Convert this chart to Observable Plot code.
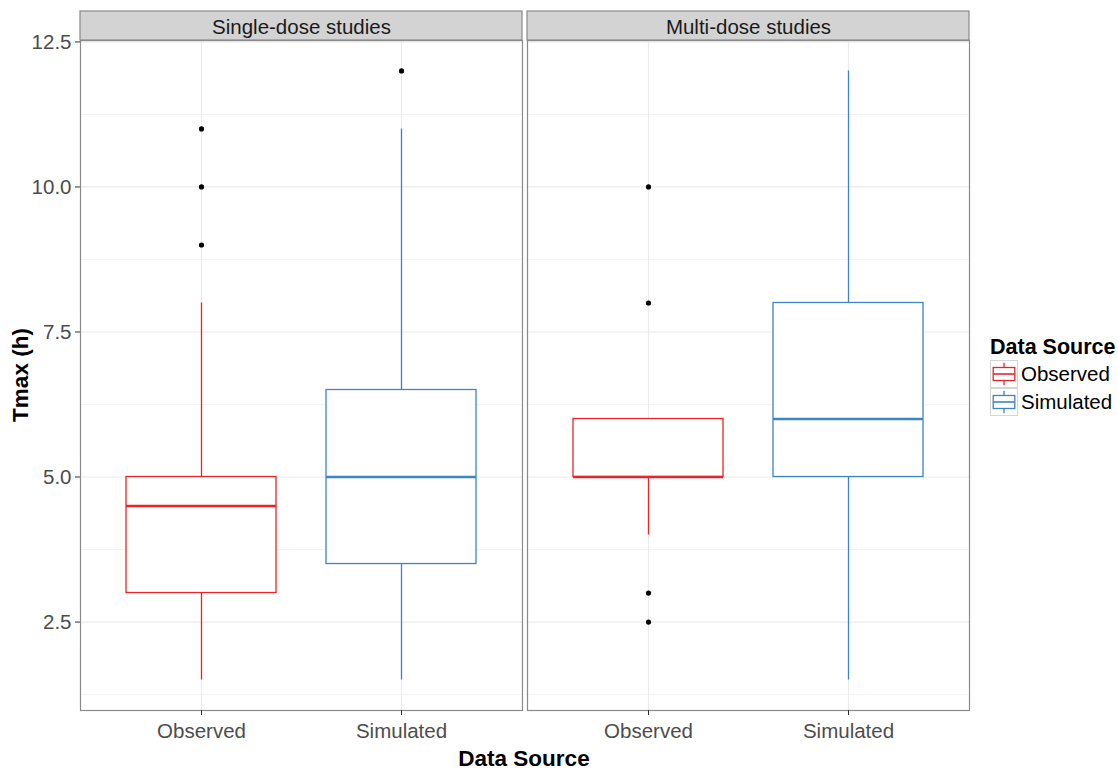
<!DOCTYPE html>
<html>
<head>
<meta charset="utf-8">
<script src="https://cdn.jsdelivr.net/npm/d3@7"></script>
<script src="https://cdn.jsdelivr.net/npm/@observablehq/plot@0.6"></script>
<style>
  body { margin: 0; background: #fff; font-family: "Liberation Sans", Arial, sans-serif; }
  #wrap { position: relative; width: 1118px; height: 772px; overflow: hidden; }
  #chart { position: absolute; left: 0; top: 0; }
  .ytitle { position: absolute; left: 21px; top: 375px; transform: translate(-50%, -50%) rotate(-90deg);
            font-weight: bold; font-size: 22.5px; white-space: nowrap; color: #000; }
  .xtitle { position: absolute; left: 524px; top: 759px; transform: translate(-50%, -50%);
            font-weight: bold; font-size: 22.5px; white-space: nowrap; color: #000; }
  #legend { position: absolute; left: 990px; top: 335px; }
  #legend .ltitle { font-weight: bold; font-size: 21.5px; line-height: 24px; height: 25px; white-space: nowrap; }
  #legend .row { display: flex; align-items: center; height: 28px; }
  #legend .row svg { display: block; }
  #legend .row span { font-size: 20.5px; margin-left: 3px; color: #000; white-space: nowrap; }
</style>
</head>
<body>
<div id="wrap">
  <div id="chart"></div>
  <div class="ytitle">Tmax (h)</div>
  <div class="xtitle">Data Source</div>
  <div id="legend"></div>
</div>
<script>
// ---- data ----
const studies = ["Single-dose studies", "Multi-dose studies"];
const sources = ["Observed", "Simulated"];
const sourceColors = ["#e8262a", "#3d85c6"];

const boxStudy = ["Single-dose studies", "Single-dose studies", "Multi-dose studies", "Multi-dose studies"];
const boxSource = ["Observed", "Simulated", "Observed", "Simulated"];
const boxQ1 = [3, 3.5, 5, 5];
const boxMedian = [4.5, 5, 5, 6];
const boxQ3 = [5, 6.5, 6, 8];
const whiskerLow = [1.5, 1.5, 4, 1.5];
const whiskerHigh = [8, 11, 6, 12];

const outlierStudy = ["Single-dose studies", "Single-dose studies", "Single-dose studies", "Single-dose studies",
                      "Multi-dose studies", "Multi-dose studies", "Multi-dose studies", "Multi-dose studies"];
const outlierSource = ["Observed", "Observed", "Observed", "Simulated",
                       "Observed", "Observed", "Observed", "Observed"];
const outlierValue = [9, 10, 11, 12, 10, 8, 3, 2.5];

const yTicks = [2.5, 5, 7.5, 10, 12.5];
const yMinorTicks = [1.25, 3.75, 6.25, 8.75, 11.25];
const yDomain = [0.975, 12.525];

// ---- tables ----
const boxes = boxStudy.map((s, i) => ({
  study: s, source: boxSource[i], q1: boxQ1[i], median: boxMedian[i], q3: boxQ3[i],
  lo: whiskerLow[i], hi: whiskerHigh[i]
}));
const outliers = outlierValue.map((v, i) => ({study: outlierStudy[i], source: outlierSource[i], value: v}));

const stripHeight = 29;
function strip(index, scales, values, dims) {
  return d3.create("svg:rect")
    .attr("x", dims.marginLeft)
    .attr("y", dims.marginTop - stripHeight)
    .attr("width", dims.width - dims.marginLeft - dims.marginRight)
    .attr("height", stripHeight)
    .attr("fill", "#d3d3d3")
    .attr("stroke", "#8a8a8a")
    .attr("stroke-width", 1.2)
    .node();
}

const lw = 1.3;
const chart = Plot.plot({
  width: 975,
  height: 772,
  marginTop: 40,
  marginBottom: 62,
  marginLeft: 80,
  marginRight: 6,
  style: {fontFamily: "Liberation Sans, Arial, sans-serif", background: "white", overflow: "visible"},
  fx: {domain: studies, paddingInner: 0.0112, paddingOuter: 0, axis: null, label: null},
  x: {domain: sources, paddingInner: 0.25, paddingOuter: 0.225, label: null},
  y: {domain: yDomain, label: null},
  color: {domain: sources, range: sourceColors},
  marks: [
    Plot.ruleY(yMinorTicks, {stroke: "#f4f4f4", strokeWidth: 1}),
    Plot.ruleY(yTicks, {stroke: "#ebebeb", strokeWidth: 1.2}),
    Plot.ruleX(sources, {x: d => d, stroke: "#ebebeb", strokeWidth: 1.2}),
    Plot.ruleX(boxes, {fx: "study", x: "source", y1: "lo", y2: "q1", stroke: "source", strokeWidth: lw}),
    Plot.ruleX(boxes, {fx: "study", x: "source", y1: "q3", y2: "hi", stroke: "source", strokeWidth: lw}),
    Plot.barY(boxes, {fx: "study", x: "source", y1: "q1", y2: "q3", fill: "white", stroke: "source", strokeWidth: lw}),
    Plot.tickY(boxes, {fx: "study", x: "source", y: "median", stroke: "source", strokeWidth: 2.6}),
    Plot.dot(outliers, {fx: "study", x: "source", y: "value", r: 2.6, fill: "black"}),
    Plot.frame({stroke: "#8a8a8a", strokeWidth: 1.2}),
    strip,
    Plot.text(studies, {fx: d => d, text: d => d, frameAnchor: "top", lineAnchor: "middle", dy: -13.5,
                        fontSize: 20.5, fill: "#1a1a1a"}),
    Plot.axisY({ticks: yTicks, tickFormat: d3.format(".1f"), tickSize: 5, tickPadding: 4, fontSize: 20.5,
                color: "#4d4d4d", stroke: "#333", label: null}),
    Plot.axisX({tickSize: 5, tickPadding: 8, fontSize: 20.5, color: "#4d4d4d", stroke: "#333", label: null})
  ]
});
document.getElementById("chart").append(chart);

// ---- legend ----
const legend = d3.select("#legend");
legend.append("div").attr("class", "ltitle").text("Data Source");
sources.forEach((s, i) => {
  const row = legend.append("div").attr("class", "row");
  const svg = row.append("svg").attr("width", 28).attr("height", 28);
  const c = sourceColors[i];
  svg.append("rect").attr("x", 0.5).attr("y", 0.5).attr("width", 27).attr("height", 27)
    .attr("fill", "white").attr("stroke", "#d6d6d6");
  svg.append("line").attr("x1", 14).attr("x2", 14).attr("y1", 2.8).attr("y2", 25.2).attr("stroke", c).attr("stroke-width", 1.3);
  svg.append("rect").attr("x", 3.2).attr("y", 7.5).attr("width", 21.6).attr("height", 13)
    .attr("fill", "white").attr("stroke", c).attr("stroke-width", 1.3);
  svg.append("line").attr("x1", 3.2).attr("x2", 24.8).attr("y1", 14).attr("y2", 14).attr("stroke", c).attr("stroke-width", 1.6);
  row.append("span").text(s);
});
</script>
</body>
</html>
